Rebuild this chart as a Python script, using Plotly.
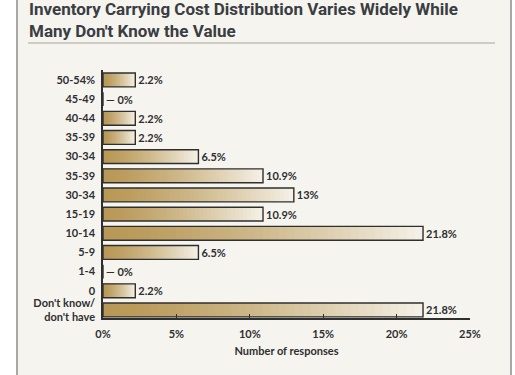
import plotly.graph_objects as go

# ---- data ----
categories = ["50-54%", "45-49", "40-44", "35-39", "30-34", "35-39", "30-34",
              "15-19", "10-14", "5-9", "1-4", "0", "Don't know/<br>don't have"]
values = [2.2, 0, 2.2, 2.2, 6.5, 10.9, 13, 10.9, 21.8, 6.5, 0, 2.2, 21.8]
value_labels = ["2.2%", "0%", "2.2%", "2.2%", "6.5%", "10.9%", "13%",
                "10.9%", "21.8%", "6.5%", "0%", "2.2%", "21.8%"]
x_ticks = [0, 5, 10, 15, 20, 25]
x_tick_labels = ["0%", "5%", "10%", "15%", "20%", "25%"]
title_text = "Inventory Carrying Cost Distribution Varies Widely While<br>Many Don't Know the Value"
x_title = "Number of responses"

W, H = 515, 375
L, R, T, B = 103, 45, 70, 57
n = len(categories)
ypos = list(range(n))

INK = "#2f2f2f"
FONT = "Lato"
DARK = (184, 152, 86)
LIGHT = (246, 243, 234)


def mix(f):
    f = f ** 1.35
    c = [round(DARK[i] + (LIGHT[i] - DARK[i]) * f) for i in range(3)]
    return "rgb(%d,%d,%d)" % tuple(c)


fig = go.Figure()

# gradient fill built from overlaid bars (longest/lightest first)
N = 40
for k in range(N):
    frac = (N - k) / N
    fig.add_trace(go.Bar(
        y=ypos, x=[v * frac for v in values], orientation="h",
        marker=dict(color=mix((N - k - 1) / N), line=dict(width=0)),
        width=0.72, hoverinfo="skip", showlegend=False))

# outline + labels
shown = [("\u2014 " + t) if v == 0 else t for v, t in zip(values, value_labels)]
fig.add_trace(go.Bar(
    y=ypos, x=values, orientation="h", width=0.72,
    marker=dict(color="rgba(0,0,0,0)", line=dict(color=INK, width=1.4)),
    text=shown, textposition="outside", cliponaxis=False,
    textfont=dict(family=FONT, size=11, color=INK, weight="bold"),
    hoverinfo="skip", showlegend=False))

pw, ph = W - L - R, H - T - B


def px(x):
    return (x - L) / pw


def py(y):
    return (H - B - y) / ph


shapes = [
    dict(type="rect", xref="paper", yref="paper", x0=px(17), x1=px(511),
         y0=py(390), y1=py(-10), fillcolor="#f5f4ef",
         line=dict(color="#8c8c8c", width=1.5), layer="below"),
    dict(type="line", xref="paper", yref="paper", x0=px(28), x1=px(495),
         y0=py(43), y1=py(43), line=dict(color="#a8a398", width=1.2)),
]

annotations = [
    dict(text=title_text, xref="paper", yref="paper", x=px(27), y=py(-3),
         xanchor="left", yanchor="top", align="left", showarrow=False,
         font=dict(family="Roboto", size=17, color="#3a3d42", weight="bold")),
]

fig.update_layout(
    width=W, height=H, barmode="overlay",
    margin=dict(l=L, r=R, t=T, b=B, autoexpand=False),
    paper_bgcolor="white", plot_bgcolor="rgba(0,0,0,0)",
    shapes=shapes, annotations=annotations,
    xaxis=dict(range=[0, 25], tickvals=x_ticks, ticktext=x_tick_labels,
               showgrid=False, zeroline=False, showline=True, linecolor=INK,
               linewidth=1.5, ticks="inside", ticklen=4, tickcolor=INK,
               tickwidth=1.2, ticklabelstandoff=5,
               tickfont=dict(family=FONT, size=11, color=INK, weight="bold"),
               title=dict(text=x_title, standoff=8,
                          font=dict(family=FONT, size=11, color=INK, weight="bold"))),
    yaxis=dict(range=[n - 1 + 0.42, -0.52], tickvals=ypos, ticktext=categories,
               showgrid=False, zeroline=False, showline=True, linecolor=INK,
               linewidth=1.5, ticks="", ticklabelstandoff=4,
               tickfont=dict(family=FONT, size=11, color=INK, weight="bold")),
)

fig.write_html("out.html", config={"displayModeBar": False},
               post_script="document.body.style.margin='0';")
